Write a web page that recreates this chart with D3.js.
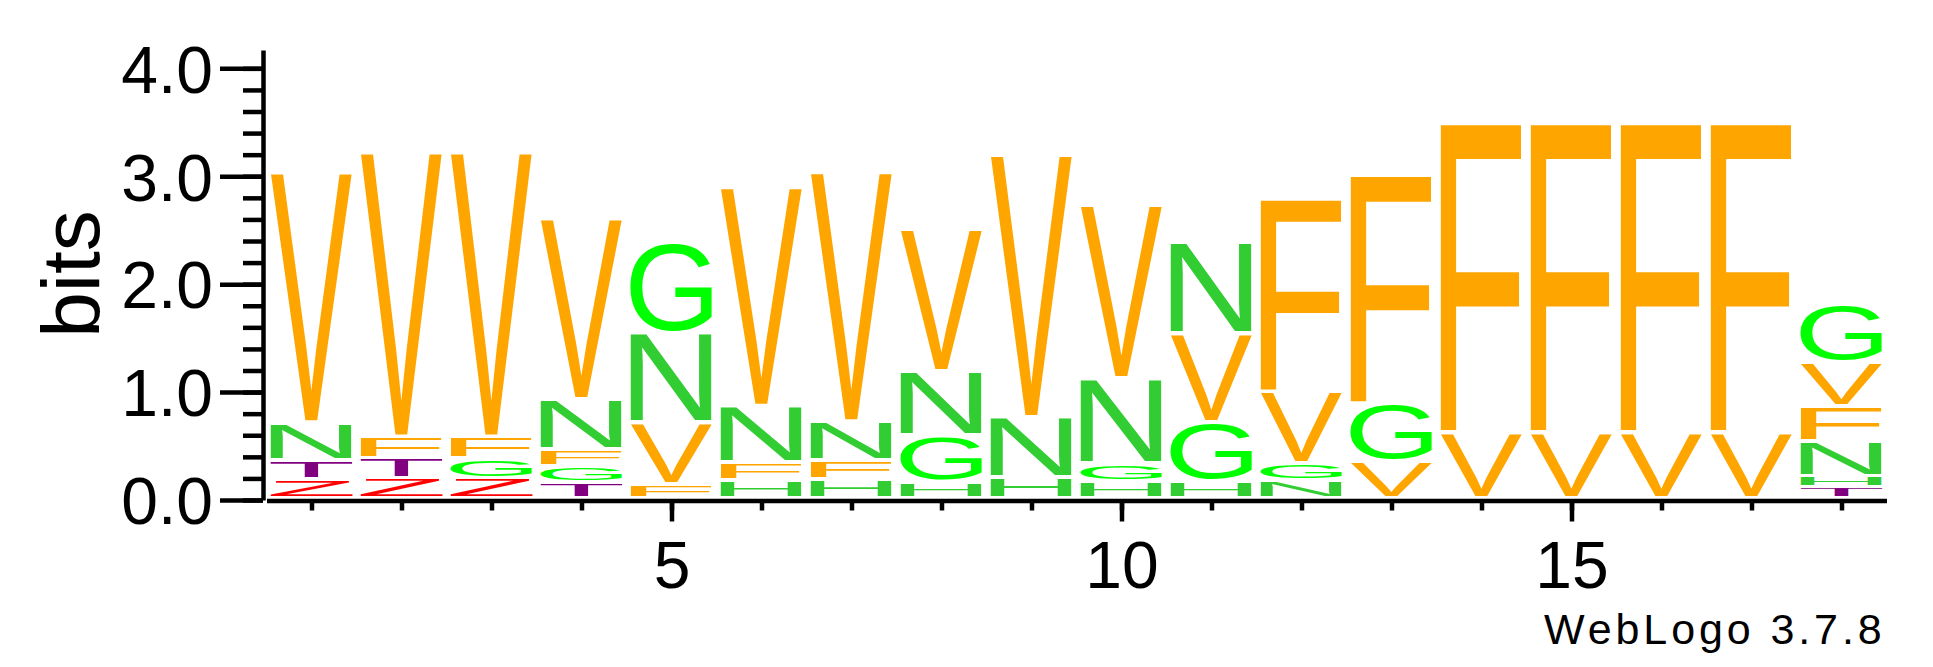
<!DOCTYPE html>
<html><head><meta charset="utf-8">
<script src="https://cdn.jsdelivr.net/npm/d3@7"></script>
<style>body{margin:0;background:#fff} svg{display:block}</style>
</head><body>
<svg id="chart" width="1933" height="667"></svg>
<script>
// ---- data (bits per letter at each position) ----
const positions = [1,2,3,4,5,6,7,8,9,10,11,12,13,14,15,16,17,18];
const letters = ["V","F","N","G","H","T","Z"];
const V = [2.321,2.639,2.639,1.673,0.571,2.031,2.315,1.321,2.435,1.602,0.824,0.664,0.345,0.611,0.611,0.611,0.611,0.405];
const F = [0,0.196,0.200,0.157,0.130,0.167,0.178,0,0,0,0,1.790,2.120,2.870,2.870,2.870,2.870,0.325];
const N = [0.349,0,0,0.463,0.827,0.521,0.356,0.598,0.556,0.787,0.843,0.161,0,0,0,0,0,0.324];
const G = [0,0,0.186,0.151,0.843,0,0,0.432,0,0.164,0.544,0.163,0.534,0,0,0,0,0.537];
const Hh = [0,0,0,0,0,0.166,0.177,0.148,0.194,0.160,0.160,0,0,0,0,0,0,0.104];
const T = [0.179,0.190,0,0.148,0,0,0,0,0,0,0,0,0,0,0,0,0,0.103];
const Z = [0.175,0.185,0.185,0,0,0,0,0,0,0,0,0,0,0,0,0,0,0];
const yMajorTicks = [0,1,2,3,4];
const yMinorTicks = [0,0.2,0.4,0.6,0.8,1,1.2,1.4,1.6,1.8,2,2.2,2.4,2.6,2.8,3,3.2,3.4,3.6,3.8,4];
const xMajorTicks = [5,10,15];

// ---- styles ----
const colors = {V:"#FFA500",F:"#FFA500",N:"#32CD32",G:"#00FF00",H:"#32CD32",T:"#800080",Z:"#FF0000"};
const FONT = "'Liberation Sans', Arial, Helvetica, sans-serif";
const series = {V:V,F:F,N:N,G:G,H:Hh,T:T,Z:Z};

const svg = d3.select("#chart");
const x = d3.scaleLinear().domain([0.5,18.5]).range([266.5,1886.5]);
const y = d3.scaleLinear().domain([0,4.17]).range([500,50]);

// glyph metrics via canvas
const ctx = document.createElement("canvas").getContext("2d");
ctx.font = "100px " + FONT;
const metricCache = {};
function metrics(ch){
  if(!metricCache[ch]){
    const m = ctx.measureText(ch);
    metricCache[ch] = {L:m.actualBoundingBoxLeft,R:m.actualBoundingBoxRight,A:m.actualBoundingBoxAscent,D:m.actualBoundingBoxDescent};
  }
  return metricCache[ch];
}

const stacks = positions.map((p,i)=>{
  const items = letters.map(l=>({l:l,v:series[l][i]})).filter(d=>d.v>0).sort((a,b)=>a.v-b.v);
  let cum = 0;
  return items.map(d=>{const o={pos:p,l:d.l,y0:cum,y1:cum+d.v}; cum+=d.v; return o;});
}).flat();

const glyphW = 82, gap = 4;
svg.append("g").selectAll("text").data(stacks).join("text")
  .text(d=>d.l)
  .attr("font-family",FONT).attr("font-size",100)
  .attr("fill",d=>colors[d.l])
  .attr("transform",d=>{
    const m = metrics(d.l);
    const x0 = x(d.pos) - glyphW/2;
    const yt = y(d.y1), yb = y(d.y0) - gap;
    const sx = glyphW/(m.L+m.R), sy = (yb-yt)/(m.A+m.D);
    return `translate(${x0 + m.L*sx},${yt + m.A*sy}) scale(${sx},${sy})`;
  });

// ---- axes ----
function styleAxis(g){
  g.selectAll("path,line").attr("stroke","#000").attr("stroke-width",4.5);
  g.selectAll("text").attr("font-family",FONT).attr("font-size",66).attr("fill","#000");
}
const yMinor = svg.append("g").attr("transform","translate(263,0)")
  .call(d3.axisLeft(y).tickValues(yMinorTicks).tickSizeInner(20).tickSizeOuter(0).tickFormat(""));
yMinor.call(styleAxis);
const yMajor = svg.append("g").attr("transform","translate(263,0)")
  .call(d3.axisLeft(y).tickValues(yMajorTicks).tickSizeInner(43).tickSizeOuter(0).tickPadding(7).tickFormat(d3.format(".1f")));
yMajor.select(".domain").remove();
yMajor.call(styleAxis);
yMajor.selectAll("text").attr("dy","0.36em");

const xMinor = svg.append("g").attr("transform","translate(0,500.5)")
  .call(d3.axisBottom(x).tickValues(positions).tickSizeInner(10).tickSizeOuter(0).tickFormat(""));
xMinor.call(styleAxis);
const xMajor = svg.append("g").attr("transform","translate(0,500.5)")
  .call(d3.axisBottom(x).tickValues(xMajorTicks).tickSizeInner(21).tickSizeOuter(0).tickPadding(20).tickFormat(d3.format("d")));
xMajor.select(".domain").remove();
xMajor.call(styleAxis);

svg.append("text").text("bits")
  .attr("transform","translate(99,274) rotate(-90)")
  .attr("text-anchor","middle").attr("font-family",FONT).attr("font-size",82).attr("fill","#000");

svg.append("text").text("WebLogo 3.7.8")
  .attr("x",1544).attr("y",644).attr("font-family",FONT).attr("font-size",43)
  .attr("letter-spacing",3.9).attr("fill","#000");
</script>
</body></html>
